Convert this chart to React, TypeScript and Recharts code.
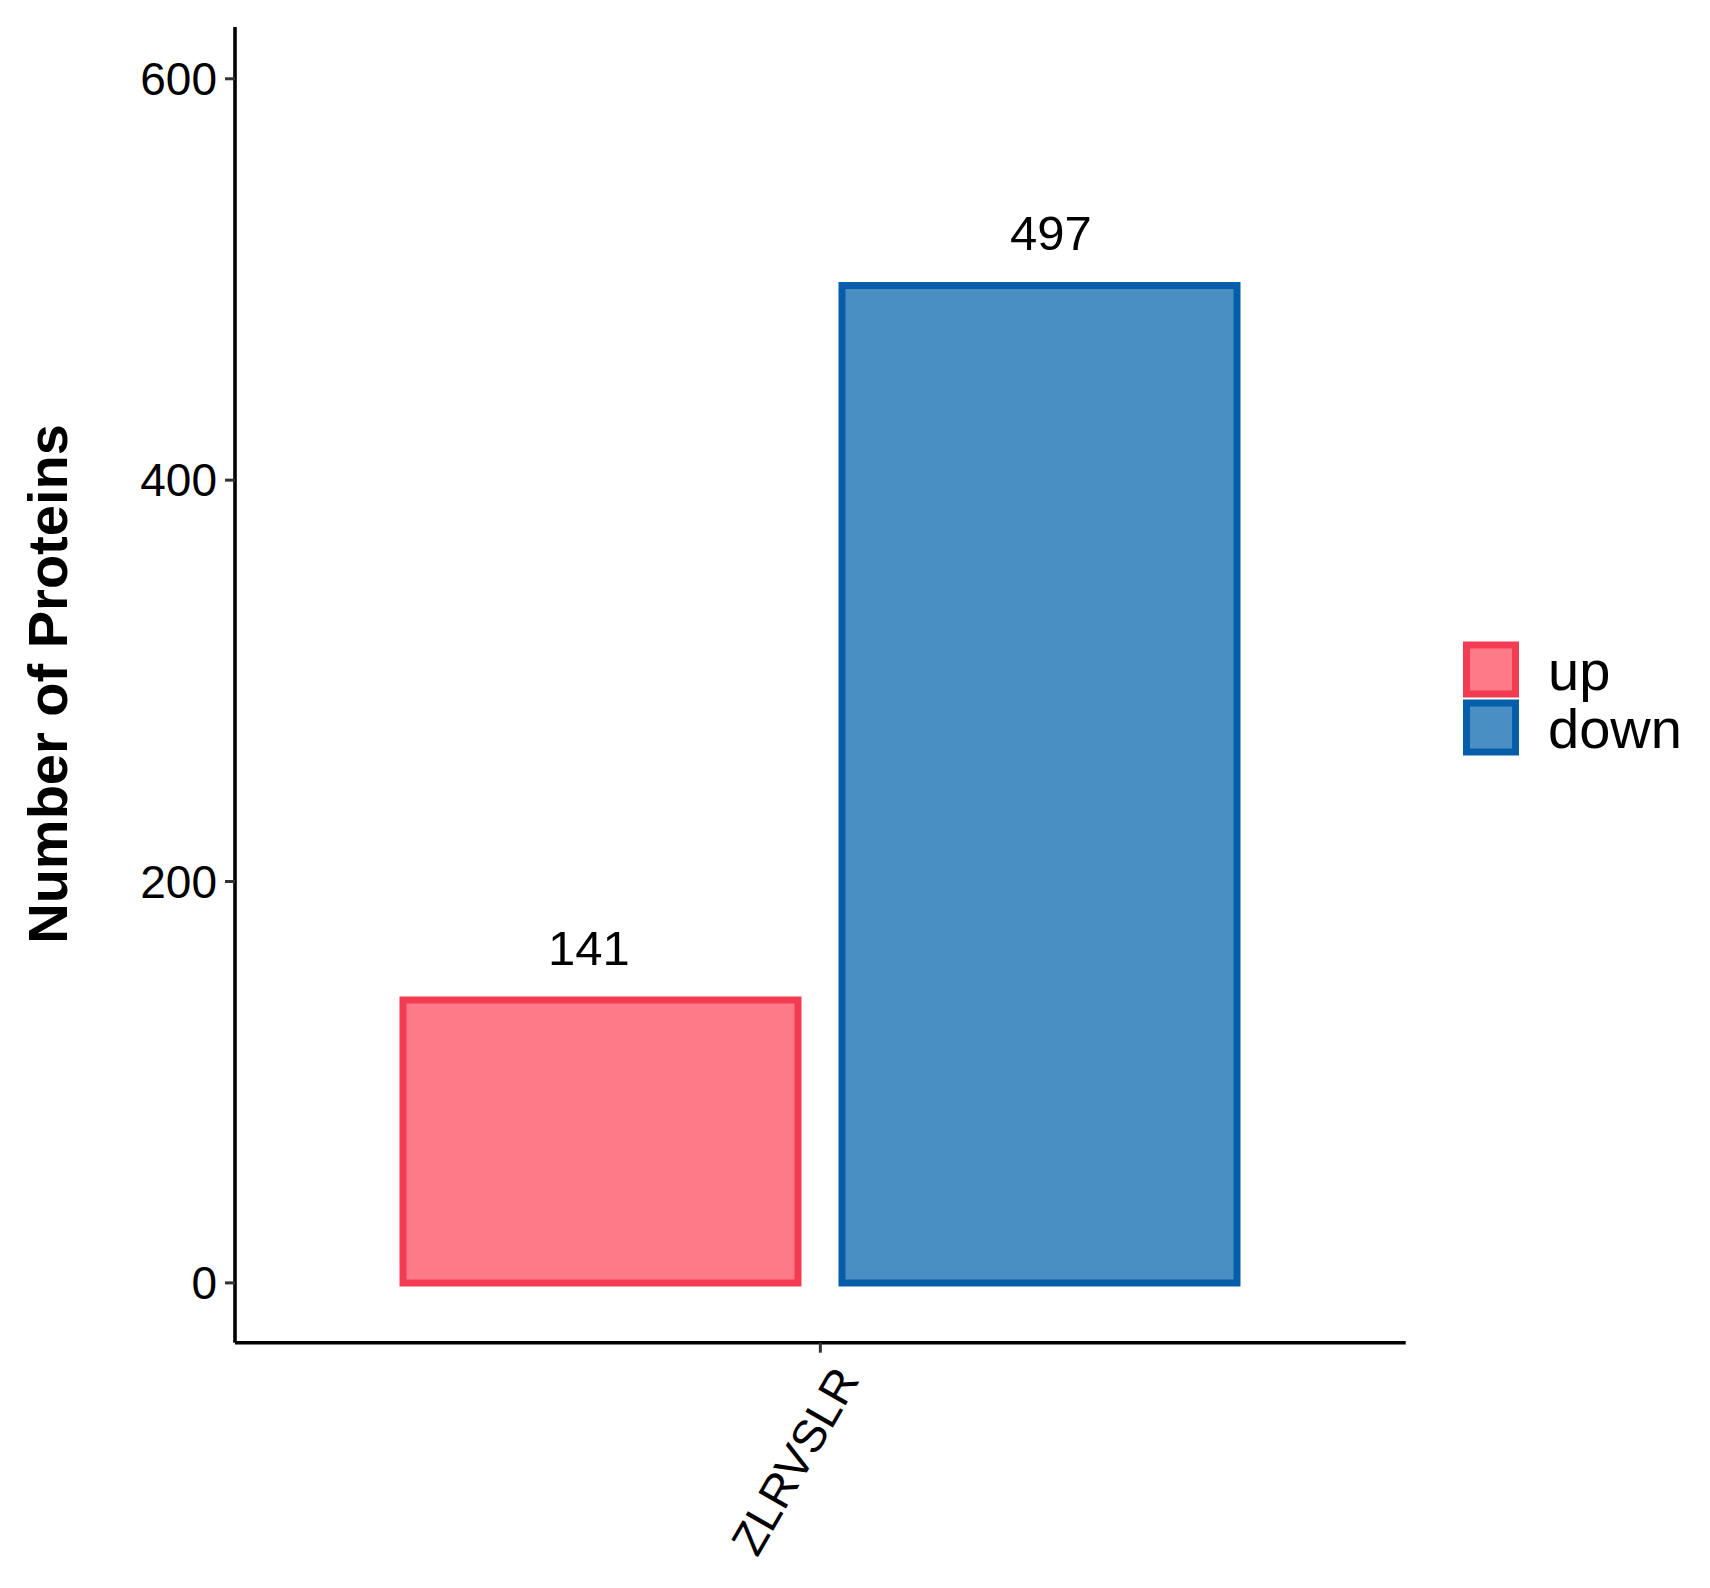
import { Bar, BarChart, Label, LabelList, XAxis, YAxis } from 'recharts'

const CATEGORIES = ['ZLRVSLR']
const UP_COUNTS = [141]
const DOWN_COUNTS = [497]
const SERIES_KEYS = ['up', 'down']
const Y_TICKS = [0, 200, 400, 600]
const Y_DOMAIN: [number, number] = [-29.8, 625.8]

const FONT = '"Liberation Sans", Arial, Helvetica, sans-serif'
const FILLS: Record<string, string> = { up: '#FF7A88', down: '#4A8FC4' }
const STROKES: Record<string, string> = { up: '#F33B51', down: '#065EAA' }
// geom_text is dodged a bit wider than the bars
const LABEL_SHIFT: Record<string, number> = { up: -11.5, down: 11.5 }

const data = CATEGORIES.map((name, i) => ({
  name,
  up: UP_COUNTS[i],
  down: DOWN_COUNTS[i]
}))

function XTick(props: any) {
  const { x, y, payload } = props
  const ax = x + 40
  const ay = y + 27
  return (
    <text
      x={ax}
      y={ay}
      transform={`rotate(-60, ${ax}, ${ay})`}
      textAnchor="end"
      fontSize={46}
      fontFamily={FONT}
      fill="#000"
    >
      {payload.value}
    </text>
  )
}

const barLabel = (key: string) => (props: any) => {
  const { x, y, width, value } = props
  return (
    <text
      x={Number(x) + Number(width) / 2 + LABEL_SHIFT[key]}
      y={Number(y) - 35}
      textAnchor="middle"
      fontSize={49}
      fontFamily={FONT}
      fill="#000"
    >
      {value}
    </text>
  )
}

function LegendOverlay() {
  return (
    <svg
      width={1710}
      height={1588}
      style={{ position: 'absolute', left: 0, top: 0, pointerEvents: 'none' }}
    >
      {SERIES_KEYS.map((key, i) => (
        <g key={key}>
          <rect
            x={1466.5}
            y={645 + i * 58}
            width={49}
            height={49}
            fill={FILLS[key]}
            stroke={STROKES[key]}
            strokeWidth={7}
          />
          <text x={1548} y={690 + i * 58} fontSize={56} fontFamily={FONT} fill="#000">
            {key}
          </text>
        </g>
      ))}
    </svg>
  )
}

export default function App() {
  return (
    <div
      style={{
        position: 'absolute',
        left: 0,
        top: 0,
        width: 1710,
        height: 1588,
        background: '#fff'
      }}
    >
      <BarChart
        width={1710}
        height={1588}
        data={data}
        margin={{ top: 27, right: 304.3, bottom: 145.3, left: 135 }}
        barGap={44}
        barSize={395}
      >
        <XAxis
          dataKey="name"
          height={100}
          interval={0}
          axisLine={{ stroke: '#000', strokeWidth: 3.6 }}
          tickLine={{ stroke: '#333', strokeWidth: 3 }}
          tickSize={10}
          tickMargin={0}
          tick={<XTick />}
        />
        <YAxis
          width={100}
          domain={Y_DOMAIN}
          allowDataOverflow
          ticks={Y_TICKS}
          axisLine={{ stroke: '#000', strokeWidth: 3.6 }}
          tickLine={{ stroke: '#333', strokeWidth: 3 }}
          tickSize={10}
          tickMargin={8}
          tick={{ fill: '#000', fontSize: 46, fontFamily: FONT }}
        >
          <Label
            content={() => (
              <text
                x={67}
                y={684}
                transform="rotate(-90, 67, 684)"
                textAnchor="middle"
                fontSize={56}
                fontWeight="bold"
                fontFamily={FONT}
                fill="#000"
              >
                Number of Proteins
              </text>
            )}
          />
        </YAxis>
        {SERIES_KEYS.map((key) => (
          <Bar
            key={key}
            dataKey={key}
            fill={FILLS[key]}
            stroke={STROKES[key]}
            strokeWidth={7}
            barSize={395}
            isAnimationActive={false}
          >
            <LabelList dataKey={key} content={barLabel(key)} />
          </Bar>
        ))}
      </BarChart>
      <LegendOverlay />
    </div>
  )
}
